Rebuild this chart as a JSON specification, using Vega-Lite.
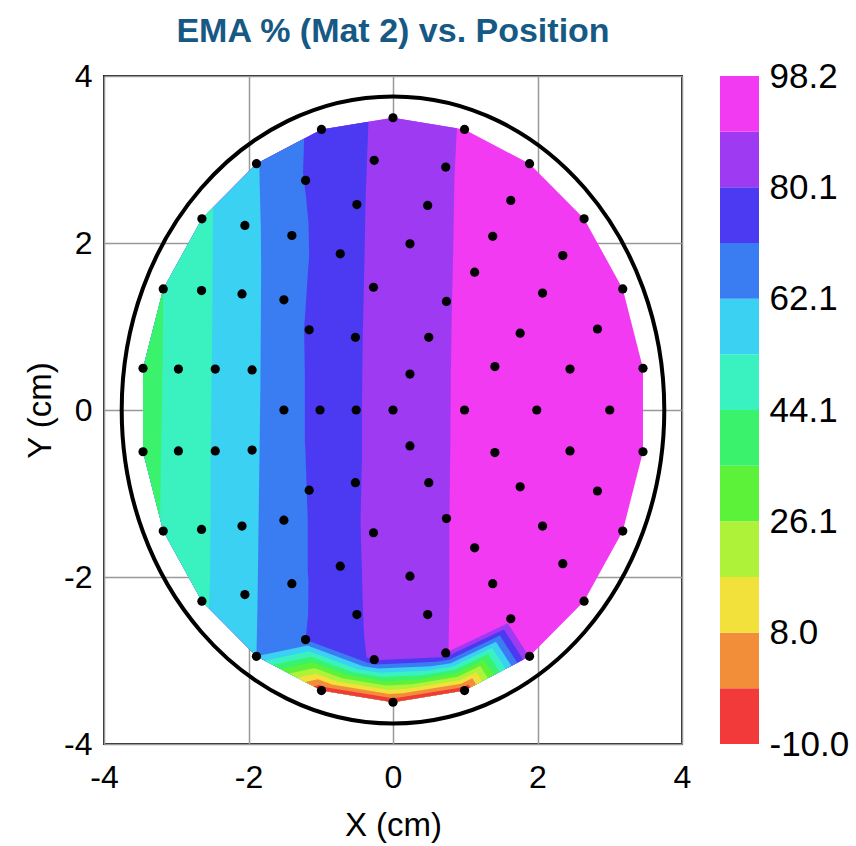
{
  "$schema": "https://vega.github.io/schema/vega-lite/v6.json",
  "background": "white",
  "padding": {"left": 23, "top": 14, "right": 0, "bottom": 0},
  "config": {
    "font": "Liberation Sans",
    "view": {"stroke": "#222", "strokeWidth": 2},
    "axis": {
      "labelFont": "Liberation Sans", "titleFont": "Liberation Sans",
      "labelFontSize": 32, "titleFontSize": 33, "titleFontWeight": "normal",
      "labelColor": "#000", "titleColor": "#000", "ticks": false, "domain": false,
      "gridColor": "#999", "gridWidth": 1.5, "gridOpacity": 1
    }
  },
  "datasets": {
    "poly": [
      {"k":11,"i":0,"x":0,"y":3.5},{"k":11,"i":1,"x":0.99,"y":3.36},{"k":11,"i":2,"x":1.89,"y":2.95},{"k":11,"i":3,"x":2.645,"y":2.29},{"k":11,"i":4,"x":3.18,"y":1.45},{"k":11,"i":5,"x":3.46,"y":0.5},{"k":11,"i":6,"x":3.46,"y":-0.5},{"k":11,"i":7,"x":3.18,"y":-1.45},{"k":11,"i":8,"x":2.645,"y":-2.29},{"k":11,"i":9,"x":1.89,"y":-2.95},{"k":11,"i":10,"x":0.99,"y":-3.36},{"k":11,"i":11,"x":0,"y":-3.5},{"k":11,"i":12,"x":-0.99,"y":-3.36},{"k":11,"i":13,"x":-1.89,"y":-2.95},{"k":11,"i":14,"x":-2.645,"y":-2.29},{"k":11,"i":15,"x":-3.18,"y":-1.45},{"k":11,"i":16,"x":-3.46,"y":-0.5},{"k":11,"i":17,"x":-3.46,"y":0.5},{"k":11,"i":18,"x":-3.18,"y":1.45},{"k":11,"i":19,"x":-2.645,"y":2.29},{"k":11,"i":20,"x":-1.89,"y":2.95},{"k":11,"i":21,"x":-0.99,"y":3.36},

      {"k":10,"i":0,"x":0.885,"y":3.375},{"k":10,"i":1,"x":0.85,"y":2.78},{"k":10,"i":2,"x":0.835,"y":2.0},{"k":10,"i":3,"x":0.815,"y":1.22},{"k":10,"i":4,"x":0.8,"y":0.42},{"k":10,"i":5,"x":0.795,"y":-0.3},{"k":10,"i":6,"x":0.78,"y":-1.33},{"k":10,"i":7,"x":0.78,"y":-2.3},{"k":10,"i":8,"x":0.768,"y":-2.893},{"k":10,"i":9,"x":1.589,"y":-2.555},{"k":10,"i":10,"x":1.883,"y":-2.953},{"k":10,"i":11,"x":0.99,"y":-3.36},{"k":10,"i":12,"x":0,"y":-3.5},{"k":10,"i":13,"x":-0.99,"y":-3.36},{"k":10,"i":14,"x":-1.89,"y":-2.95},{"k":10,"i":15,"x":-2.645,"y":-2.29},{"k":10,"i":16,"x":-3.18,"y":-1.45},{"k":10,"i":17,"x":-3.46,"y":-0.5},{"k":10,"i":18,"x":-3.46,"y":0.5},{"k":10,"i":19,"x":-3.18,"y":1.45},{"k":10,"i":20,"x":-2.645,"y":2.29},{"k":10,"i":21,"x":-1.89,"y":2.95},{"k":10,"i":22,"x":-0.99,"y":3.36},{"k":10,"i":23,"x":0,"y":3.5},

      {"k":9,"i":0,"x":-0.34,"y":3.452},{"k":9,"i":1,"x":-0.36,"y":2.98},{"k":9,"i":2,"x":-0.38,"y":2.5},{"k":9,"i":3,"x":-0.39,"y":2.02},{"k":9,"i":4,"x":-0.4,"y":1.62},{"k":9,"i":5,"x":-0.42,"y":0.82},{"k":9,"i":6,"x":-0.43,"y":0.0},{"k":9,"i":7,"x":-0.43,"y":-0.6},{"k":9,"i":8,"x":-0.45,"y":-1.33},{"k":9,"i":9,"x":-0.43,"y":-1.93},{"k":9,"i":10,"x":-0.42,"y":-2.3},{"k":9,"i":11,"x":-0.4,"y":-2.7},{"k":9,"i":12,"x":-0.366,"y":-2.963},{"k":9,"i":13,"x":-0.269,"y":-2.994},{"k":9,"i":14,"x":-0.257,"y":-2.996},{"k":9,"i":15,"x":0.666,"y":-2.962},{"k":9,"i":16,"x":0.753,"y":-2.95},{"k":9,"i":17,"x":1.535,"y":-2.628},{"k":9,"i":18,"x":1.802,"y":-2.99},{"k":9,"i":19,"x":0.99,"y":-3.36},{"k":9,"i":20,"x":0,"y":-3.5},{"k":9,"i":21,"x":-0.99,"y":-3.36},{"k":9,"i":22,"x":-1.89,"y":-2.95},{"k":9,"i":23,"x":-2.645,"y":-2.29},{"k":9,"i":24,"x":-3.18,"y":-1.45},{"k":9,"i":25,"x":-3.46,"y":-0.5},{"k":9,"i":26,"x":-3.46,"y":0.5},{"k":9,"i":27,"x":-3.18,"y":1.45},{"k":9,"i":28,"x":-2.645,"y":2.29},{"k":9,"i":29,"x":-1.89,"y":2.95},{"k":9,"i":30,"x":-0.99,"y":3.36},

      {"k":8,"i":0,"x":-1.23,"y":3.251},{"k":8,"i":1,"x":-1.245,"y":2.84},{"k":8,"i":2,"x":-1.205,"y":2.56},{"k":8,"i":3,"x":-1.17,"y":2.25},{"k":8,"i":4,"x":-1.16,"y":1.85},{"k":8,"i":5,"x":-1.18,"y":1.62},{"k":8,"i":6,"x":-1.21,"y":1.22},{"k":8,"i":7,"x":-1.23,"y":0.98},{"k":8,"i":8,"x":-1.22,"y":0.42},{"k":8,"i":9,"x":-1.22,"y":-0.37},{"k":8,"i":10,"x":-1.21,"y":-0.53},{"k":8,"i":11,"x":-1.18,"y":-1.33},{"k":8,"i":12,"x":-1.18,"y":-1.93},{"k":8,"i":13,"x":-1.17,"y":-2.05},{"k":8,"i":14,"x":-1.175,"y":-2.45},{"k":8,"i":15,"x":-1.21,"y":-2.75},{"k":8,"i":16,"x":-0.342,"y":-3.031},{"k":8,"i":17,"x":-0.231,"y":-3.047},{"k":8,"i":18,"x":0.599,"y":-3.016},{"k":8,"i":19,"x":0.777,"y":-2.991},{"k":8,"i":20,"x":1.48,"y":-2.702},{"k":8,"i":21,"x":1.72,"y":-3.027},{"k":8,"i":22,"x":0.99,"y":-3.36},{"k":8,"i":23,"x":0,"y":-3.5},{"k":8,"i":24,"x":-0.99,"y":-3.36},{"k":8,"i":25,"x":-1.89,"y":-2.95},{"k":8,"i":26,"x":-2.645,"y":-2.29},{"k":8,"i":27,"x":-3.18,"y":-1.45},{"k":8,"i":28,"x":-3.46,"y":-0.5},{"k":8,"i":29,"x":-3.46,"y":0.5},{"k":8,"i":30,"x":-3.18,"y":1.45},{"k":8,"i":31,"x":-2.645,"y":2.29},{"k":8,"i":32,"x":-1.89,"y":2.95},

      {"k":7,"i":0,"x":-1.85,"y":2.968},{"k":7,"i":1,"x":-1.845,"y":2.7},{"k":7,"i":2,"x":-1.83,"y":2.2},{"k":7,"i":3,"x":-1.825,"y":1.7},{"k":7,"i":4,"x":-1.83,"y":1.0},{"k":7,"i":5,"x":-1.835,"y":0.3},{"k":7,"i":6,"x":-1.845,"y":-0.37},{"k":7,"i":7,"x":-1.86,"y":-1.33},{"k":7,"i":8,"x":-1.875,"y":-2.3},{"k":7,"i":9,"x":-1.89,"y":-2.95},{"k":7,"i":10,"x":-1.185,"y":-2.82},{"k":7,"i":11,"x":-0.413,"y":-3.068},{"k":7,"i":12,"x":-0.205,"y":-3.097},{"k":7,"i":13,"x":0.532,"y":-3.07},{"k":7,"i":14,"x":0.8,"y":-3.032},{"k":7,"i":15,"x":1.425,"y":-2.775},{"k":7,"i":16,"x":1.639,"y":-3.064},{"k":7,"i":17,"x":0.99,"y":-3.36},{"k":7,"i":18,"x":0,"y":-3.5},{"k":7,"i":19,"x":-0.99,"y":-3.36},{"k":7,"i":20,"x":-1.89,"y":-2.95},{"k":7,"i":21,"x":-2.645,"y":-2.29},{"k":7,"i":22,"x":-3.18,"y":-1.45},{"k":7,"i":23,"x":-3.46,"y":-0.5},{"k":7,"i":24,"x":-3.46,"y":0.5},{"k":7,"i":25,"x":-3.18,"y":1.45},{"k":7,"i":26,"x":-2.645,"y":2.29},{"k":7,"i":27,"x":-1.89,"y":2.95},

      {"k":6,"p":"a","i":0,"x":-2.49,"y":2.425},{"k":6,"p":"a","i":1,"x":-2.495,"y":2.02},{"k":6,"p":"a","i":2,"x":-2.5,"y":1.2},{"k":6,"p":"a","i":3,"x":-2.51,"y":0.4},{"k":6,"p":"a","i":4,"x":-2.52,"y":-0.37},{"k":6,"p":"a","i":5,"x":-2.525,"y":-1.3},{"k":6,"p":"a","i":6,"x":-2.53,"y":-2.0},{"k":6,"p":"a","i":7,"x":-2.55,"y":-2.373},{"k":6,"p":"a","i":8,"x":-2.645,"y":-2.29},{"k":6,"p":"a","i":9,"x":-3.18,"y":-1.45},{"k":6,"p":"a","i":10,"x":-3.46,"y":-0.5},{"k":6,"p":"a","i":11,"x":-3.46,"y":0.5},{"k":6,"p":"a","i":12,"x":-3.18,"y":1.45},{"k":6,"p":"a","i":13,"x":-2.645,"y":2.29},
      {"k":6,"p":"b","i":0,"x":-1.776,"y":-3.002},{"k":6,"p":"b","i":1,"x":-1.16,"y":-2.888},{"k":6,"p":"b","i":2,"x":-0.486,"y":-3.104},{"k":6,"p":"b","i":3,"x":-0.18,"y":-3.148},{"k":6,"p":"b","i":4,"x":0.466,"y":-3.124},{"k":6,"p":"b","i":5,"x":0.824,"y":-3.073},{"k":6,"p":"b","i":6,"x":1.371,"y":-2.848},{"k":6,"p":"b","i":7,"x":1.558,"y":-3.101},{"k":6,"p":"b","i":8,"x":0.99,"y":-3.36},{"k":6,"p":"b","i":9,"x":0,"y":-3.5},{"k":6,"p":"b","i":10,"x":-0.99,"y":-3.36},

      {"k":5,"p":"a","i":0,"x":-3.18,"y":1.45},{"k":5,"p":"a","i":1,"x":-3.19,"y":0.5},{"k":5,"p":"a","i":2,"x":-3.21,"y":-0.5},{"k":5,"p":"a","i":3,"x":-3.224,"y":-1.3},{"k":5,"p":"a","i":4,"x":-3.46,"y":-0.5},{"k":5,"p":"a","i":5,"x":-3.46,"y":0.5},
      {"k":5,"p":"b","i":0,"x":-1.663,"y":-3.053},{"k":5,"p":"b","i":1,"x":-1.136,"y":-2.955},{"k":5,"p":"b","i":2,"x":-0.557,"y":-3.141},{"k":5,"p":"b","i":3,"x":-0.154,"y":-3.198},{"k":5,"p":"b","i":4,"x":0.399,"y":-3.177},{"k":5,"p":"b","i":5,"x":0.848,"y":-3.114},{"k":5,"p":"b","i":6,"x":1.316,"y":-2.921},{"k":5,"p":"b","i":7,"x":1.477,"y":-3.138},{"k":5,"p":"b","i":8,"x":0.99,"y":-3.36},{"k":5,"p":"b","i":9,"x":0,"y":-3.5},{"k":5,"p":"b","i":10,"x":-0.99,"y":-3.36},

      {"k":4,"i":0,"x":-1.552,"y":-3.104},{"k":4,"i":1,"x":-1.112,"y":-3.023},{"k":4,"i":2,"x":-0.629,"y":-3.177},{"k":4,"i":3,"x":-0.128,"y":-3.248},{"k":4,"i":4,"x":0.333,"y":-3.231},{"k":4,"i":5,"x":0.871,"y":-3.155},{"k":4,"i":6,"x":1.262,"y":-2.995},{"k":4,"i":7,"x":1.396,"y":-3.175},{"k":4,"i":8,"x":0.99,"y":-3.36},{"k":4,"i":9,"x":0,"y":-3.5},{"k":4,"i":10,"x":-0.99,"y":-3.36},

      {"k":3,"i":0,"x":-1.439,"y":-3.155},{"k":3,"i":1,"x":-1.087,"y":-3.09},{"k":3,"i":2,"x":-0.702,"y":-3.214},{"k":3,"i":3,"x":-0.103,"y":-3.299},{"k":3,"i":4,"x":0.266,"y":-3.285},{"k":3,"i":5,"x":0.895,"y":-3.196},{"k":3,"i":6,"x":1.208,"y":-3.067},{"k":3,"i":7,"x":1.315,"y":-3.212},{"k":3,"i":8,"x":0.99,"y":-3.36},{"k":3,"i":9,"x":0,"y":-3.5},{"k":3,"i":10,"x":-0.99,"y":-3.36},

      {"k":2,"i":0,"x":-1.326,"y":-3.207},{"k":2,"i":1,"x":-1.063,"y":-3.158},{"k":2,"i":2,"x":-0.774,"y":-3.25},{"k":2,"i":3,"x":-0.077,"y":-3.349},{"k":2,"i":4,"x":0.199,"y":-3.339},{"k":2,"i":5,"x":0.919,"y":-3.237},{"k":2,"i":6,"x":1.153,"y":-3.141},{"k":2,"i":7,"x":1.233,"y":-3.249},{"k":2,"i":8,"x":0.99,"y":-3.36},{"k":2,"i":9,"x":0,"y":-3.5},{"k":2,"i":10,"x":-0.99,"y":-3.36},

      {"k":1,"i":0,"x":-1.214,"y":-3.258},{"k":1,"i":1,"x":-1.039,"y":-3.225},{"k":1,"i":2,"x":-0.846,"y":-3.287},{"k":1,"i":3,"x":-0.051,"y":-3.4},{"k":1,"i":4,"x":0.133,"y":-3.393},{"k":1,"i":5,"x":0.943,"y":-3.278},{"k":1,"i":6,"x":1.099,"y":-3.214},{"k":1,"i":7,"x":1.152,"y":-3.286},{"k":1,"i":8,"x":0.99,"y":-3.36},{"k":1,"i":9,"x":0,"y":-3.5},{"k":1,"i":10,"x":-0.99,"y":-3.36},

      {"k":0,"i":0,"x":-1.102,"y":-3.309},{"k":0,"i":1,"x":-1.014,"y":-3.293},{"k":0,"i":2,"x":-0.918,"y":-3.323},{"k":0,"i":3,"x":-0.026,"y":-3.45},{"k":0,"i":4,"x":0.066,"y":-3.446},{"k":0,"i":5,"x":0.966,"y":-3.319},{"k":0,"i":6,"x":1.044,"y":-3.287},{"k":0,"i":7,"x":1.071,"y":-3.323},{"k":0,"i":8,"x":0.99,"y":-3.36},{"k":0,"i":9,"x":0,"y":-3.5},{"k":0,"i":10,"x":-0.99,"y":-3.36}
    ],
    "dots": [
      {"x":0,"y":3.5},{"x":0.99,"y":3.36},{"x":1.89,"y":2.95},{"x":2.645,"y":2.29},{"x":3.18,"y":1.45},{"x":3.46,"y":0.5},{"x":3.46,"y":-0.5},{"x":3.18,"y":-1.45},{"x":2.645,"y":-2.29},{"x":1.89,"y":-2.95},{"x":0.99,"y":-3.36},{"x":0,"y":-3.5},{"x":-0.99,"y":-3.36},{"x":-1.89,"y":-2.95},{"x":-2.645,"y":-2.29},{"x":-3.18,"y":-1.45},{"x":-3.46,"y":-0.5},{"x":-3.46,"y":0.5},{"x":-3.18,"y":1.45},{"x":-2.645,"y":2.29},{"x":-1.89,"y":2.95},{"x":-0.99,"y":3.36},
      {"x":-0.26,"y":2.99},{"x":0.73,"y":2.91},{"x":-1.21,"y":2.75},{"x":1.63,"y":2.51},{"x":-0.5,"y":2.46},{"x":0.48,"y":2.45},{"x":-2.05,"y":2.21},{"x":-1.4,"y":2.09},{"x":1.38,"y":2.08},{"x":0.235,"y":1.99},{"x":-0.73,"y":1.87},{"x":2.35,"y":1.85},{"x":1.13,"y":1.65},{"x":-0.27,"y":1.47},{"x":-2.65,"y":1.43},{"x":-2.09,"y":1.39},{"x":2.07,"y":1.4},{"x":-1.51,"y":1.32},{"x":0.74,"y":1.3},{"x":2.83,"y":0.97},{"x":-1.16,"y":0.96},{"x":1.76,"y":0.92},{"x":-0.52,"y":0.87},{"x":0.495,"y":0.87},{"x":1.41,"y":0.52},{"x":-2.97,"y":0.49},{"x":-2.46,"y":0.49},{"x":2.45,"y":0.49},{"x":-1.95,"y":0.48},{"x":0.235,"y":0.43},
      {"x":-1.51,"y":0},{"x":-1.01,"y":0},{"x":-0.51,"y":0},{"x":0,"y":0},{"x":0.99,"y":0},{"x":1.99,"y":0},{"x":3.0,"y":0},
      {"x":-0.26,"y":-2.99},{"x":0.73,"y":-2.91},{"x":-1.21,"y":-2.75},{"x":1.63,"y":-2.5},{"x":-0.5,"y":-2.45},{"x":0.48,"y":-2.45},{"x":-2.05,"y":-2.21},{"x":-1.4,"y":-2.08},{"x":1.38,"y":-2.08},{"x":0.235,"y":-1.99},{"x":-0.73,"y":-1.87},{"x":2.35,"y":-1.84},{"x":1.13,"y":-1.65},{"x":-0.27,"y":-1.47},{"x":-2.65,"y":-1.43},{"x":-2.09,"y":-1.39},{"x":2.07,"y":-1.39},{"x":-1.51,"y":-1.32},{"x":0.74,"y":-1.3},{"x":2.83,"y":-0.97},{"x":-1.16,"y":-0.96},{"x":1.76,"y":-0.92},{"x":-0.52,"y":-0.87},{"x":0.495,"y":-0.87},{"x":1.41,"y":-0.51},{"x":-2.97,"y":-0.49},{"x":-2.46,"y":-0.49},{"x":2.45,"y":-0.49},{"x":-1.95,"y":-0.48},{"x":0.235,"y":-0.43}
    ],
    "ring": [{"x":0,"y":0}],
    "bar": [
      {"k":0,"lo":-10,"hi":-0.98},{"k":1,"lo":-0.98,"hi":8.03},{"k":2,"lo":8.03,"hi":17.05},{"k":3,"lo":17.05,"hi":26.07},{"k":4,"lo":26.07,"hi":35.08},{"k":5,"lo":35.08,"hi":44.1},{"k":6,"lo":44.1,"hi":53.12},{"k":7,"lo":53.12,"hi":62.13},{"k":8,"lo":62.13,"hi":71.15},{"k":9,"lo":71.15,"hi":80.17},{"k":10,"lo":80.17,"hi":89.18},{"k":11,"lo":89.18,"hi":98.2}
    ]
  },
  "hconcat": [
    {
      "title": {"text": "EMA % (Mat 2) vs. Position", "fontSize": 34, "fontWeight": "bold", "color": "#175985", "font": "Liberation Sans", "anchor": "middle", "frame": "group", "offset": 11},
      "width": 578,
      "height": 668,
      "data": {"name": "poly"},
      "encoding": {
        "x": {"field": "x", "type": "quantitative", "scale": {"domain": [-4, 4], "nice": false, "zero": false}, "axis": {"values": [-4, -2, 0, 2, 4], "labelExpr": "'' + datum.value", "title": "X (cm)", "grid": true, "labelPadding": 18, "titlePadding": 16, "labelFlush": false}},
        "y": {"field": "y", "type": "quantitative", "scale": {"domain": [-4, 4], "nice": false, "zero": false}, "axis": {"values": [-4, -2, 0, 2, 4], "labelExpr": "'' + datum.value", "title": "Y (cm)", "grid": true, "labelPadding": 12, "titlePadding": 6}}
      },
      "layer": [
        {"transform": [{"filter": "datum.k == 11"}], "mark": {"type": "line", "filled": true, "interpolate": "linear-closed", "strokeWidth": 0}, "encoding": {"color": {"field": "k", "type": "ordinal", "scale": {"domain": [0,1,2,3,4,5,6,7,8,9,10,11], "range": ["#f23a3a","#f28e3a","#f2e13a","#aff23a","#5cf23a","#3af26c","#3af2c0","#3ad1f2","#3a7df2","#4b3af2","#9e3af2","#f23af2"]}, "legend": null}, "detail": {"field": "p"}, "order": {"field": "i"}}},
        {"transform": [{"filter": "datum.k == 10"}], "mark": {"type": "line", "filled": true, "interpolate": "linear-closed", "strokeWidth": 0}, "encoding": {"color": {"field": "k", "type": "ordinal", "legend": null}, "detail": {"field": "p"}, "order": {"field": "i"}}},
        {"transform": [{"filter": "datum.k == 9"}], "mark": {"type": "line", "filled": true, "interpolate": "linear-closed", "strokeWidth": 0}, "encoding": {"color": {"field": "k", "type": "ordinal", "legend": null}, "detail": {"field": "p"}, "order": {"field": "i"}}},
        {"transform": [{"filter": "datum.k == 8"}], "mark": {"type": "line", "filled": true, "interpolate": "linear-closed", "strokeWidth": 0}, "encoding": {"color": {"field": "k", "type": "ordinal", "legend": null}, "detail": {"field": "p"}, "order": {"field": "i"}}},
        {"transform": [{"filter": "datum.k == 7"}], "mark": {"type": "line", "filled": true, "interpolate": "linear-closed", "strokeWidth": 0}, "encoding": {"color": {"field": "k", "type": "ordinal", "legend": null}, "detail": {"field": "p"}, "order": {"field": "i"}}},
        {"transform": [{"filter": "datum.k == 6"}], "mark": {"type": "line", "filled": true, "interpolate": "linear-closed", "strokeWidth": 0}, "encoding": {"color": {"field": "k", "type": "ordinal", "legend": null}, "detail": {"field": "p"}, "order": {"field": "i"}}},
        {"transform": [{"filter": "datum.k == 5"}], "mark": {"type": "line", "filled": true, "interpolate": "linear-closed", "strokeWidth": 0}, "encoding": {"color": {"field": "k", "type": "ordinal", "legend": null}, "detail": {"field": "p"}, "order": {"field": "i"}}},
        {"transform": [{"filter": "datum.k == 4"}], "mark": {"type": "line", "filled": true, "interpolate": "linear-closed", "strokeWidth": 0}, "encoding": {"color": {"field": "k", "type": "ordinal", "legend": null}, "detail": {"field": "p"}, "order": {"field": "i"}}},
        {"transform": [{"filter": "datum.k == 3"}], "mark": {"type": "line", "filled": true, "interpolate": "linear-closed", "strokeWidth": 0}, "encoding": {"color": {"field": "k", "type": "ordinal", "legend": null}, "detail": {"field": "p"}, "order": {"field": "i"}}},
        {"transform": [{"filter": "datum.k == 2"}], "mark": {"type": "line", "filled": true, "interpolate": "linear-closed", "strokeWidth": 0}, "encoding": {"color": {"field": "k", "type": "ordinal", "legend": null}, "detail": {"field": "p"}, "order": {"field": "i"}}},
        {"transform": [{"filter": "datum.k == 1"}], "mark": {"type": "line", "filled": true, "interpolate": "linear-closed", "strokeWidth": 0}, "encoding": {"color": {"field": "k", "type": "ordinal", "legend": null}, "detail": {"field": "p"}, "order": {"field": "i"}}},
        {"transform": [{"filter": "datum.k == 0"}], "mark": {"type": "line", "filled": true, "interpolate": "linear-closed", "strokeWidth": 0}, "encoding": {"color": {"field": "k", "type": "ordinal", "legend": null}, "detail": {"field": "p"}, "order": {"field": "i"}}},
        {"data": {"name": "dots"}, "mark": {"type": "point", "filled": true, "color": "black", "opacity": 1, "size": 85}},
        {"data": {"name": "ring"}, "mark": {"type": "point", "shape": "M1,0C1,0.6383,0.5523,1.1557,0,1.1557C-0.5523,1.1557,-1,0.6383,-1,0C-1,-0.6383,-0.5523,-1.1557,0,-1.1557C0.5523,-1.1557,1,-0.6383,1,0Z", "size": 294415, "filled": false, "color": "black", "strokeWidth": 4, "opacity": 1}}
      ]
    },
    {
      "width": 39,
      "height": 668,
      "view": {"stroke": null},
      "data": {"name": "bar"},
      "mark": {"type": "rect"},
      "encoding": {
        "y": {"field": "lo", "type": "quantitative", "scale": {"domain": [-10, 98.2], "nice": false, "zero": false}, "axis": {"orient": "right", "values": [-10, 8.03, 26.07, 44.1, 62.13, 80.17, 98.2], "labelExpr": "datum.value < 0 ? '-10.0' : (datum.value > 80 && datum.value < 81 ? '80.1' : format(datum.value, '.1f'))", "title": null, "grid": false, "labelFontSize": 35, "labelPadding": 10, "labelOverlap": false, "labelBaseline": "middle"}},
        "y2": {"field": "hi"},
        "color": {"field": "k", "type": "ordinal", "scale": {"domain": [0,1,2,3,4,5,6,7,8,9,10,11], "range": ["#f23a3a","#f28e3a","#f2e13a","#aff23a","#5cf23a","#3af26c","#3af2c0","#3ad1f2","#3a7df2","#4b3af2","#9e3af2","#f23af2"]}, "legend": null}
      }
    }
  ],
  "spacing": 38,
  "bounds": "flush"
}
